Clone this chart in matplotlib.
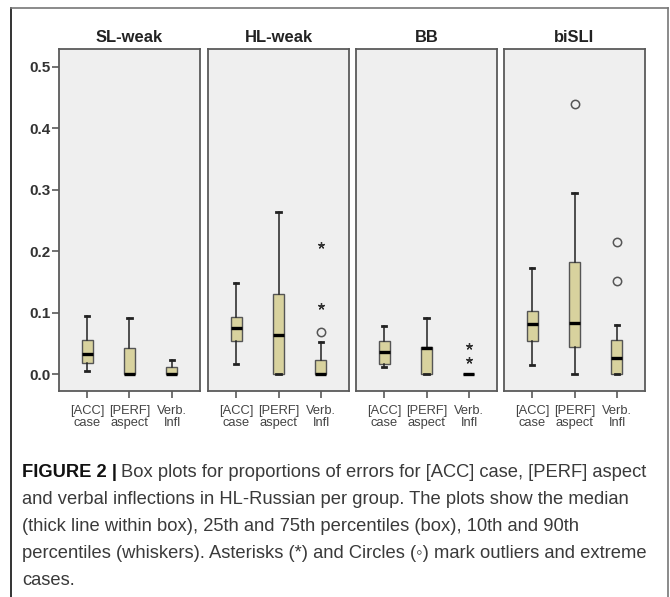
"""Box plots of error proportions per group (SPSS-style panel figure)."""
import matplotlib

matplotlib.use("Agg")
import matplotlib.pyplot as plt
from matplotlib.lines import Line2D

# --- data ----------------------------------------------------------------
groups = ["SL-weak", "HL-weak", "BB", "biSLI"]
conditions = ["[ACC]\ncase", "[PERF]\naspect", "Verb.\nInfl"]

# one row per group, one value per condition
whisker_low = [[0.005, 0.0, 0.0], [0.017, 0.0, 0.0], [0.011, 0.0, 0.0], [0.014, 0.0, 0.0]]
quart_low = [[0.018, 0.0, 0.0], [0.054, 0.0, 0.0], [0.016, 0.0, 0.0], [0.054, 0.044, 0.0]]
medians = [[0.032, 0.0, 0.0], [0.075, 0.063, 0.0], [0.036, 0.043, 0.0], [0.082, 0.083, 0.026]]
quart_high = [[0.056, 0.043, 0.011], [0.093, 0.130, 0.023], [0.054, 0.044, 0.0], [0.102, 0.182, 0.055]]
whisker_high = [[0.095, 0.091, 0.023], [0.148, 0.264, 0.052], [0.078, 0.091, 0.0], [0.172, 0.295, 0.079]]

# (group, condition index, value)
circle_outliers = [("HL-weak", 2, 0.068), ("biSLI", 1, 0.439), ("biSLI", 2, 0.214), ("biSLI", 2, 0.151)]
star_outliers = [("HL-weak", 2, 0.209), ("HL-weak", 2, 0.111), ("BB", 2, 0.046), ("BB", 2, 0.022)]

y_ticks = [0.0, 0.1, 0.2, 0.3, 0.4, 0.5]

caption_bold = "FIGURE 2 |"
caption_lines = [
    "Box plots for proportions of errors for [ACC] case, [PERF] aspect",
    "and verbal inflections in HL-Russian per group. The plots show the median",
    "(thick line within box), 25th and 75th percentiles (box), 10th and 90th",
    "percentiles (whiskers). Asterisks (*) and Circles (\u25e6) mark outliers and extreme",
    "cases.",
]

# --- layout (pixels of a 670x597 canvas) -----------------------------------
W, H = 670, 597
SANS = ["Liberation Sans", "DejaVu Sans"]
BOX_FILL = "#d8d29e"
PANEL_BG = "#efefef"
SPINE = "#5a5a5a"

fig = plt.figure(figsize=(W / 100, H / 100), dpi=100)


def px_rect(x0, y0, x1, y1):
    return [x0 / W, 1 - y1 / H, (x1 - x0) / W, (y1 - y0) / H]


panel_left = [59, 208, 356, 504]
panel_w = 141
panel_top, panel_bot = 49, 391
positions = [1, 2, 3]

for gi, name in enumerate(groups):
    ax = fig.add_axes(px_rect(panel_left[gi], panel_top, panel_left[gi] + panel_w, panel_bot))
    ax.set_facecolor(PANEL_BG)
    stats = []
    for ci in range(3):
        stats.append({
            "whislo": whisker_low[gi][ci],
            "q1": quart_low[gi][ci],
            "med": medians[gi][ci],
            "q3": quart_high[gi][ci],
            "whishi": whisker_high[gi][ci],
            "fliers": [],
        })
    ax.bxp(stats, positions=positions, widths=0.26, capwidths=0.1,
           patch_artist=True, showfliers=False,
           boxprops=dict(facecolor=BOX_FILL, edgecolor="#555555", linewidth=1.0),
           medianprops=dict(color="black", linewidth=2.4, solid_capstyle="butt"),
           whiskerprops=dict(color="#222222", linewidth=1.1),
           capprops=dict(color="#222222", linewidth=2.0))

    for g, ci, v in circle_outliers:
        if g == name:
            ax.plot(positions[ci], v, "o", ms=6, mfc="none", mec="#555555", mew=1.1)
    for g, ci, v in star_outliers:
        if g == name:
            ax.plot(positions[ci], v, marker=(5, 2, 0), ms=5, color="#333333", mew=0.9)

    ax.set_xlim(0.34, 3.66)
    ax.set_ylim(-0.0276, 0.5285)
    ax.set_xticks(positions, conditions, fontsize=9.3, color="#444444",
                  family=SANS, linespacing=0.98)
    ax.tick_params(axis="x", length=5, width=1.2, color=SPINE, pad=5)
    if gi == 0:
        ax.set_yticks(y_ticks, [f"{t:.1f}" for t in y_ticks], fontsize=11,
                      fontweight="bold", color="#333333", family=SANS)
        ax.tick_params(axis="y", length=5, width=1.2, color=SPINE, pad=1)
    else:
        ax.set_yticks([])
    for sp in ax.spines.values():
        sp.set_color(SPINE)
        sp.set_linewidth(1.3)
    ax.set_title(name, fontsize=11.9, fontweight="bold", color="#222222",
                 family=SANS, pad=5)

# outer frame of the figure block
fig.add_artist(Line2D([11 / W, 11 / W], [0, 1 - 8 / H], color="#111111", lw=1.2))
fig.add_artist(Line2D([11 / W, 668 / W], [1 - 8 / H, 1 - 8 / H], color="#777777", lw=1.2))
fig.add_artist(Line2D([668 / W, 668 / W], [0, 1 - 8 / H], color="#777777", lw=1.2))

# caption
cap_size = 13.2
base_y = [477, 504, 531, 558, 585]
t_bold = fig.text(22 / W, 1 - base_y[0] / H, caption_bold, fontsize=cap_size,
                  fontweight="bold", color="#111111", family=SANS, va="baseline")
renderer = fig.canvas.get_renderer()
bb = t_bold.get_window_extent(renderer)
x_after = (bb.x1 + 4) / W
for i, line in enumerate(caption_lines):
    x = x_after if i == 0 else 22 / W
    fig.text(x, 1 - base_y[i] / H, line, fontsize=cap_size, color="#3a3a3a",
             family=SANS, va="baseline")

fig.savefig("out.png", dpi=100)
